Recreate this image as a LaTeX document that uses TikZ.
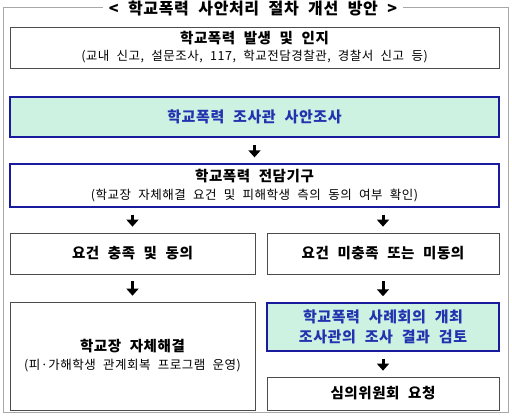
\documentclass[tikz,border=0pt]{standalone}
\usepackage{fontspec}
\setmainfont{Noto Sans CJK KR}[LetterSpace=4,WordSpace=2.2]
\usetikzlibrary{arrows.meta}
\definecolor{mint}{HTML}{CDF2E2}
\definecolor{navy}{HTML}{1A1A9E}
\definecolor{bluetxt}{HTML}{2233B0}
\definecolor{frame}{HTML}{A8A8A8}
\newcommand{\subsz}{\fontsize{12.5}{14}\selectfont\mdseries}
\tikzset{
  wbox/.style={draw=black!70, line width=0.7pt, fill=white, inner sep=0pt, align=center, font=\fontsize{14.5}{19}\selectfont\bfseries},
  gbox/.style={draw=navy, line width=1.5pt, fill=mint, inner sep=0pt, align=center, text=bluetxt, font=\fontsize{15}{20}\selectfont\bfseries},
  bbox/.style={draw=navy, line width=1.3pt, fill=white, inner sep=0pt, align=center, font=\fontsize{14.5}{19}\selectfont\bfseries},
  darr/.style={line width=3pt, -{Triangle[width=12pt,length=7pt]}, shorten <=7pt, shorten >=6pt}
}
\begin{document}
\begin{tikzpicture}[x=1pt,y=-1pt]
\useasboundingbox (0,0) rectangle (512,418);
\draw[frame, line width=0.9pt] (3,7) rectangle (508.5,412);
\node[fill=white, inner xsep=6pt, inner ysep=1pt, font=\fontsize{16}{18}\selectfont\bfseries] (title) at (253,8) {<\ 학교폭력 사안처리 절차 개선 방안\ >};
\node[wbox, minimum width=489pt, minimum height=41pt] (b1) at (254.5,47.5) {학교폭력 발생 및 인지\\[-2pt]{\subsz (교내 신고, 설문조사, 117, 학교전담경찰관, 경찰서 신고 등)}};
\node[gbox, minimum width=489pt, minimum height=40pt] (b2) at (254.5,117) {학교폭력 조사관 사안조사};
\node[bbox, minimum width=489pt, minimum height=43pt] (b3) at (254.5,185.5) {학교폭력 전담기구\\[-1pt]{\subsz (학교장 자체해결 요건 및 피해학생 측의 동의 여부 확인)}};
\node[wbox, minimum width=245pt, minimum height=41pt] (b4) at (132.5,253.5) {요건 충족 및 동의};
\node[wbox, minimum width=232pt, minimum height=41pt] (b5) at (383,253.5) {요건 미충족 또는 미동의};
\node[wbox, minimum width=245pt, minimum height=108pt] (b6) at (132.5,356) {학교장 자체해결\\[-1pt]{\subsz (피·가해학생 관계회복 프로그램 운영)}};
\node[gbox, minimum width=232pt, minimum height=48pt] (b7) at (383,327) {학교폭력 사례회의 개최\\조사관의 조사 결과 검토};
\node[wbox, minimum width=232pt, minimum height=33pt] (b8) at (383,393.5) {심의위원회 요청};
\draw[darr] (b2.south) -- (b3.north);
\draw[darr] (b3.south -| b4.north) -- (b4.north);
\draw[darr] (b3.south -| b5.north) -- (b5.north);
\draw[darr] (b4.south) -- (b6.north);
\draw[darr] (b5.south) -- (b7.north);
\draw[darr] (b7.south) -- (b8.north);
\end{tikzpicture}
\end{document}
